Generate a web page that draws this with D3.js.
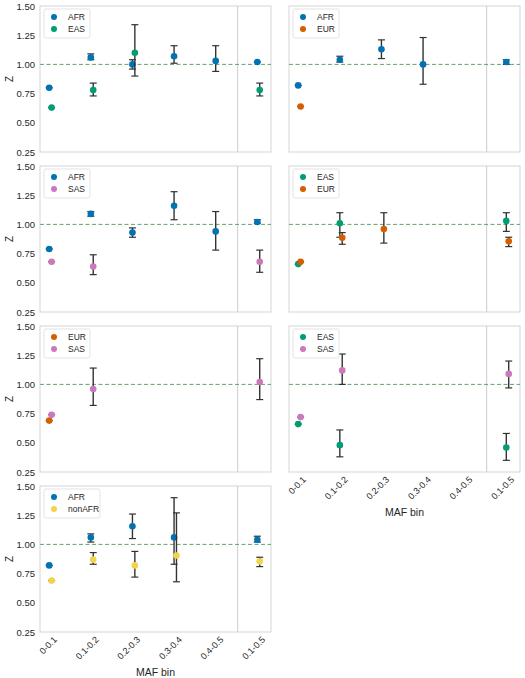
<!DOCTYPE html>
<html><head><meta charset="utf-8">
<script src="https://cdn.jsdelivr.net/npm/d3@7"></script>
<style>body{margin:0;background:#fff}text{font-family:Arial,"Liberation Sans",sans-serif;fill:#262626}</style>
</head><body><svg id="c" width="525" height="678"></svg>
<script>
const categories = ["0-0.1","0.1-0.2","0.2-0.3","0.3-0.4","0.4-0.5","0.1-0.5"];
const yTicks = [0.25,0.5,0.75,1.0,1.25,1.5];
const colors = {AFR:"#0173b2",EAS:"#029e73",EUR:"#d55e00",SAS:"#cc78bc",nonAFR:"#f2d34a"};
// [value, lo, hi] per category; null = missing
const p1_AFR = [[0.80,0.79,0.81],[1.06,1.04,1.09],[1.00,0.96,1.04],[1.07,1.01,1.16],[1.03,0.94,1.16],[1.02,1.01,1.03]];
const p1_EAS = [[0.63,0.62,0.64],[0.78,0.73,0.84],[1.10,0.90,1.34],null,null,[0.78,0.73,0.84]];
const p2_AFR = [[0.82,0.81,0.83],[1.04,1.02,1.07],[1.13,1.05,1.21],[1.00,0.83,1.23],null,[1.02,1.00,1.04]];
const p2_EUR = [[0.64,0.63,0.65],null,null,null,null,null];
const p3_AFR = [[0.79,0.78,0.80],[1.09,1.07,1.11],[0.93,0.89,0.97],[1.16,1.04,1.28],[0.94,0.78,1.11],[1.02,1.01,1.04]];
const p3_SAS = [[0.68,0.67,0.69],[0.64,0.57,0.74],null,null,null,[0.68,0.59,0.78]];
const p4_EAS = [[0.66,0.65,0.67],[1.01,0.89,1.10],null,null,null,[1.03,0.94,1.10]];
const p4_EUR = [[0.68,0.67,0.69],[0.885,0.83,0.93],[0.96,0.84,1.10],null,null,[0.855,0.81,0.89]];
const p5_EUR = [[0.69,0.68,0.70],null,null,null,null,null];
const p5_SAS = [[0.74,0.73,0.75],[0.96,0.82,1.14],null,null,null,[1.02,0.87,1.22]];
const p6_EAS = [[0.66,0.65,0.67],[0.48,0.38,0.61],null,null,null,[0.46,0.35,0.58]];
const p6_SAS = [[0.72,0.71,0.73],[1.12,1.00,1.26],null,null,null,[1.09,0.97,1.20]];
const p7_AFR = [[0.82,0.81,0.83],[1.06,1.02,1.09],[1.155,1.05,1.26],[1.06,0.83,1.40],null,[1.04,1.02,1.07]];
const p7_non = [[0.69,0.68,0.70],[0.87,0.83,0.93],[0.82,0.72,0.94],[0.905,0.68,1.27],null,[0.855,0.81,0.89]];
const panels = [
 {col:0,row:0,s:[["AFR",p1_AFR],["EAS",p1_EAS]]},
 {col:1,row:0,s:[["AFR",p2_AFR],["EUR",p2_EUR]]},
 {col:0,row:1,s:[["AFR",p3_AFR],["SAS",p3_SAS]]},
 {col:1,row:1,s:[["EAS",p4_EAS],["EUR",p4_EUR]]},
 {col:0,row:2,s:[["EUR",p5_EUR],["SAS",p5_SAS]]},
 {col:1,row:2,s:[["EAS",p6_EAS],["SAS",p6_SAS]],xaxis:true},
 {col:0,row:3,s:[["AFR",p7_AFR],["nonAFR",p7_non]],xaxis:true}
];
const svg = d3.select("#c");
const W=231,H=146, colX=[40,289], rowY=[6,166,326,486];
panels.forEach(p=>{
  const g = svg.append("g").attr("transform",`translate(${colX[p.col]},${rowY[p.row]})`);
  const x = d3.scaleLinear().domain([-0.25,5.3]).range([0,W]);
  const y = d3.scaleLinear().domain([0.25,1.5]).range([H,0]);
  g.append("rect").attr("width",W).attr("height",H).attr("fill","none").attr("stroke","#dcdcdc").attr("stroke-width",1.2);
  g.append("line").attr("x1",x(4.5)).attr("x2",x(4.5)).attr("y1",0).attr("y2",H).attr("stroke","#cccccc");
  g.append("line").attr("x1",0).attr("x2",W).attr("y1",y(1)).attr("y2",y(1)).attr("stroke","#4e9a5e").attr("stroke-dasharray","4,2.5").attr("stroke-width",0.9);
  if(p.col===0){
    const ya=g.append("g").call(d3.axisLeft(y).tickValues(yTicks).tickFormat(d3.format(".2f")).tickSize(0).tickPadding(5));
    ya.select(".domain").remove(); ya.selectAll("text").style("font-size","9.5px").attr("fill","#262626");
    g.append("text").attr("transform",`translate(-31,${H/2}) rotate(-90)`).attr("text-anchor","middle").attr("dy","0.35em").style("font-size","10px").text("Z");
  }
  if(p.xaxis){
    categories.forEach((c,i)=>{
      g.append("text").attr("transform",`translate(${x(i)+5},${H+6}) rotate(-45)`).attr("text-anchor","end").attr("dy","0.35em").style("font-size","9px").text(c);
    });
    g.append("text").attr("x",W/2).attr("y",H+44).attr("text-anchor","middle").style("font-size","10.5px").text("MAF bin");
  }
  p.s.forEach(([name,vals],si)=>{
    const off = si===0?-1.2:1.2;
    vals.forEach((v,i)=>{
      if(!v) return;
      const cx=x(i)+off;
      if(v[2]-v[1]>0.025){
        g.append("line").attr("x1",cx).attr("x2",cx).attr("y1",y(v[1])).attr("y2",y(v[2])).attr("stroke","#333").attr("stroke-width",1.4);
        [v[1],v[2]].forEach(e=>g.append("line").attr("x1",cx-3.5).attr("x2",cx+3.5).attr("y1",y(e)).attr("y2",y(e)).attr("stroke","#333").attr("stroke-width",1.2));
      } else {
        g.append("line").attr("x1",cx-3.5).attr("x2",cx+3.5).attr("y1",y(v[0])).attr("y2",y(v[0])).attr("stroke","#333").attr("stroke-width",1.2);
      }
      g.append("circle").attr("cx",cx).attr("cy",y(v[0])).attr("r",3.3).attr("fill",colors[name]);
    });
  });
  const lg=g.append("g").attr("transform","translate(4,3)");
  const lw = p.s.some(s=>s[0]==="nonAFR")?56:46;
  lg.append("rect").attr("width",lw).attr("height",29).attr("rx",2).attr("fill","#fff").attr("fill-opacity",0.8).attr("stroke","#dcdcdc").attr("stroke-width",0.8);
  p.s.forEach(([name],k)=>{
    lg.append("circle").attr("cx",10).attr("cy",8+12*k).attr("r",3).attr("fill",colors[name]);
    lg.append("text").attr("x",24).attr("y",8+12*k).attr("dy","0.35em").style("font-size","8.5px").text(name);
  });
});
</script></body></html>
